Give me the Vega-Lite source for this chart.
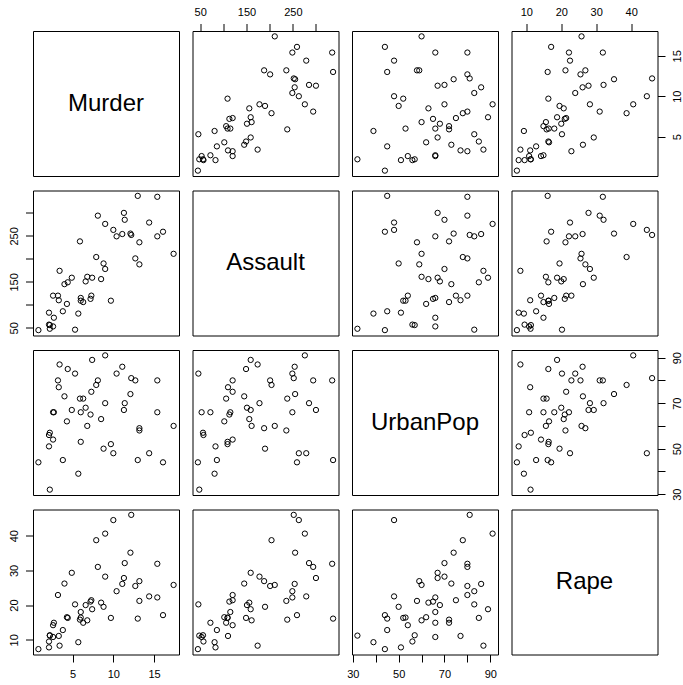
{
  "$schema": "https://vega.github.io/schema/vega-lite/v6.json",
  "padding": {"left": 8, "top": 6, "right": 5, "bottom": 5},
  "background": "white",
  "data": {"values": [
    {"State": "Alabama", "Murder": 13.2, "Assault": 236, "UrbanPop": 58, "Rape": 21.2},
    {"State": "Alaska", "Murder": 10.0, "Assault": 263, "UrbanPop": 48, "Rape": 44.5},
    {"State": "Arizona", "Murder": 8.1, "Assault": 294, "UrbanPop": 80, "Rape": 31.0},
    {"State": "Arkansas", "Murder": 8.8, "Assault": 190, "UrbanPop": 50, "Rape": 19.5},
    {"State": "California", "Murder": 9.0, "Assault": 276, "UrbanPop": 91, "Rape": 40.6},
    {"State": "Colorado", "Murder": 7.9, "Assault": 204, "UrbanPop": 78, "Rape": 38.7},
    {"State": "Connecticut", "Murder": 3.3, "Assault": 110, "UrbanPop": 77, "Rape": 11.1},
    {"State": "Delaware", "Murder": 5.9, "Assault": 238, "UrbanPop": 72, "Rape": 15.8},
    {"State": "Florida", "Murder": 15.4, "Assault": 335, "UrbanPop": 80, "Rape": 31.9},
    {"State": "Georgia", "Murder": 17.4, "Assault": 211, "UrbanPop": 60, "Rape": 25.8},
    {"State": "Hawaii", "Murder": 5.3, "Assault": 46, "UrbanPop": 83, "Rape": 20.2},
    {"State": "Idaho", "Murder": 2.6, "Assault": 120, "UrbanPop": 54, "Rape": 14.2},
    {"State": "Illinois", "Murder": 10.4, "Assault": 249, "UrbanPop": 83, "Rape": 24.0},
    {"State": "Indiana", "Murder": 7.2, "Assault": 113, "UrbanPop": 65, "Rape": 21.0},
    {"State": "Iowa", "Murder": 2.2, "Assault": 56, "UrbanPop": 57, "Rape": 11.3},
    {"State": "Kansas", "Murder": 6.0, "Assault": 115, "UrbanPop": 66, "Rape": 18.0},
    {"State": "Kentucky", "Murder": 9.7, "Assault": 109, "UrbanPop": 52, "Rape": 16.3},
    {"State": "Louisiana", "Murder": 15.4, "Assault": 249, "UrbanPop": 66, "Rape": 22.2},
    {"State": "Maine", "Murder": 2.1, "Assault": 83, "UrbanPop": 51, "Rape": 7.8},
    {"State": "Maryland", "Murder": 11.3, "Assault": 300, "UrbanPop": 67, "Rape": 27.8},
    {"State": "Massachusetts", "Murder": 4.4, "Assault": 149, "UrbanPop": 85, "Rape": 16.3},
    {"State": "Michigan", "Murder": 12.1, "Assault": 255, "UrbanPop": 74, "Rape": 35.1},
    {"State": "Minnesota", "Murder": 2.7, "Assault": 72, "UrbanPop": 66, "Rape": 14.9},
    {"State": "Mississippi", "Murder": 16.1, "Assault": 259, "UrbanPop": 44, "Rape": 17.1},
    {"State": "Missouri", "Murder": 9.0, "Assault": 178, "UrbanPop": 70, "Rape": 28.2},
    {"State": "Montana", "Murder": 6.0, "Assault": 109, "UrbanPop": 53, "Rape": 16.4},
    {"State": "Nebraska", "Murder": 4.3, "Assault": 102, "UrbanPop": 62, "Rape": 16.5},
    {"State": "Nevada", "Murder": 12.2, "Assault": 252, "UrbanPop": 81, "Rape": 46.0},
    {"State": "New Hampshire", "Murder": 2.1, "Assault": 57, "UrbanPop": 56, "Rape": 9.5},
    {"State": "New Jersey", "Murder": 7.4, "Assault": 159, "UrbanPop": 89, "Rape": 18.8},
    {"State": "New Mexico", "Murder": 11.4, "Assault": 285, "UrbanPop": 70, "Rape": 32.1},
    {"State": "New York", "Murder": 11.1, "Assault": 254, "UrbanPop": 86, "Rape": 26.1},
    {"State": "North Carolina", "Murder": 13.0, "Assault": 337, "UrbanPop": 45, "Rape": 16.1},
    {"State": "North Dakota", "Murder": 0.8, "Assault": 45, "UrbanPop": 44, "Rape": 7.3},
    {"State": "Ohio", "Murder": 7.3, "Assault": 120, "UrbanPop": 75, "Rape": 21.4},
    {"State": "Oklahoma", "Murder": 6.6, "Assault": 151, "UrbanPop": 68, "Rape": 20.0},
    {"State": "Oregon", "Murder": 4.9, "Assault": 159, "UrbanPop": 67, "Rape": 29.3},
    {"State": "Pennsylvania", "Murder": 6.3, "Assault": 106, "UrbanPop": 72, "Rape": 14.9},
    {"State": "Rhode Island", "Murder": 3.4, "Assault": 174, "UrbanPop": 87, "Rape": 8.3},
    {"State": "South Carolina", "Murder": 14.4, "Assault": 279, "UrbanPop": 48, "Rape": 22.5},
    {"State": "South Dakota", "Murder": 3.8, "Assault": 86, "UrbanPop": 45, "Rape": 12.8},
    {"State": "Tennessee", "Murder": 13.2, "Assault": 188, "UrbanPop": 59, "Rape": 26.9},
    {"State": "Texas", "Murder": 12.7, "Assault": 201, "UrbanPop": 80, "Rape": 25.5},
    {"State": "Utah", "Murder": 3.2, "Assault": 120, "UrbanPop": 80, "Rape": 22.9},
    {"State": "Vermont", "Murder": 2.2, "Assault": 48, "UrbanPop": 32, "Rape": 11.2},
    {"State": "Virginia", "Murder": 8.5, "Assault": 156, "UrbanPop": 63, "Rape": 20.7},
    {"State": "Washington", "Murder": 4.0, "Assault": 145, "UrbanPop": 73, "Rape": 26.2},
    {"State": "West Virginia", "Murder": 5.7, "Assault": 81, "UrbanPop": 39, "Rape": 9.3},
    {"State": "Wisconsin", "Murder": 2.6, "Assault": 53, "UrbanPop": 66, "Rape": 10.8},
    {"State": "Wyoming", "Murder": 6.8, "Assault": 161, "UrbanPop": 60, "Rape": 15.6}
  ]},
  "columns": 4,
  "spacing": {"row": 14.5, "column": 13.5},
  "bounds": "flush",
  "concat": [
    {"width": 146, "height": 145, "data": {"values": [{"label": "Murder"}]},
     "mark": {"type": "text", "fontSize": 24, "font": "Liberation Sans", "color": "black", "align": "center", "baseline": "middle"},
     "encoding": {"text": {"field": "label"},
       "x": {"datum": 0, "type": "quantitative", "scale": {"domain": [-1, 1]}, "axis": null},
       "y": {"datum": 0, "type": "quantitative", "scale": {"domain": [-1, 1]}, "axis": null}}},
    {"width": 146, "height": 145, "mark": {"type": "point", "shape": "circle", "filled": false, "color": "black", "size": 28, "strokeWidth": 1, "opacity": 1},
     "encoding": {
       "x": {"field": "Assault", "type": "quantitative", "scale": {"domain": [33.32, 348.68], "nice": false, "zero": false}, "axis": {"orient": "top", "title": null, "values": [50, 100, 150, 200, 250, 300], "labelExpr": "datum.value % 100 == 50 ? datum.label : ''"}},
       "y": {"field": "Murder", "type": "quantitative", "scale": {"domain": [0.136, 18.064], "nice": false, "zero": false}, "axis": null}}},
    {"width": 146, "height": 145, "mark": {"type": "point", "shape": "circle", "filled": false, "color": "black", "size": 28, "strokeWidth": 1, "opacity": 1},
     "encoding": {
       "x": {"field": "UrbanPop", "type": "quantitative", "scale": {"domain": [29.64, 93.36], "nice": false, "zero": false}, "axis": null},
       "y": {"field": "Murder", "type": "quantitative", "scale": {"domain": [0.136, 18.064], "nice": false, "zero": false}, "axis": null}}},
    {"width": 146, "height": 145, "mark": {"type": "point", "shape": "circle", "filled": false, "color": "black", "size": 28, "strokeWidth": 1, "opacity": 1},
     "encoding": {
       "x": {"field": "Rape", "type": "quantitative", "scale": {"domain": [5.752, 47.548], "nice": false, "zero": false}, "axis": {"orient": "top", "title": null, "values": [10, 20, 30, 40]}},
       "y": {"field": "Murder", "type": "quantitative", "scale": {"domain": [0.136, 18.064], "nice": false, "zero": false}, "axis": {"orient": "right", "title": null, "values": [5, 10, 15]}}}},

    {"width": 146, "height": 145, "mark": {"type": "point", "shape": "circle", "filled": false, "color": "black", "size": 28, "strokeWidth": 1, "opacity": 1},
     "encoding": {
       "x": {"field": "Murder", "type": "quantitative", "scale": {"domain": [0.136, 18.064], "nice": false, "zero": false}, "axis": null},
       "y": {"field": "Assault", "type": "quantitative", "scale": {"domain": [33.32, 348.68], "nice": false, "zero": false}, "axis": {"orient": "left", "title": null, "values": [50, 100, 150, 200, 250, 300], "labelExpr": "datum.value % 100 == 50 ? datum.label : ''"}}}},
    {"width": 146, "height": 145, "data": {"values": [{"label": "Assault"}]},
     "mark": {"type": "text", "fontSize": 24, "font": "Liberation Sans", "color": "black", "align": "center", "baseline": "middle"},
     "encoding": {"text": {"field": "label"},
       "x": {"datum": 0, "type": "quantitative", "scale": {"domain": [-1, 1]}, "axis": null},
       "y": {"datum": 0, "type": "quantitative", "scale": {"domain": [-1, 1]}, "axis": null}}},
    {"width": 146, "height": 145, "mark": {"type": "point", "shape": "circle", "filled": false, "color": "black", "size": 28, "strokeWidth": 1, "opacity": 1},
     "encoding": {
       "x": {"field": "UrbanPop", "type": "quantitative", "scale": {"domain": [29.64, 93.36], "nice": false, "zero": false}, "axis": null},
       "y": {"field": "Assault", "type": "quantitative", "scale": {"domain": [33.32, 348.68], "nice": false, "zero": false}, "axis": null}}},
    {"width": 146, "height": 145, "mark": {"type": "point", "shape": "circle", "filled": false, "color": "black", "size": 28, "strokeWidth": 1, "opacity": 1},
     "encoding": {
       "x": {"field": "Rape", "type": "quantitative", "scale": {"domain": [5.752, 47.548], "nice": false, "zero": false}, "axis": null},
       "y": {"field": "Assault", "type": "quantitative", "scale": {"domain": [33.32, 348.68], "nice": false, "zero": false}, "axis": null}}},

    {"width": 146, "height": 145, "mark": {"type": "point", "shape": "circle", "filled": false, "color": "black", "size": 28, "strokeWidth": 1, "opacity": 1},
     "encoding": {
       "x": {"field": "Murder", "type": "quantitative", "scale": {"domain": [0.136, 18.064], "nice": false, "zero": false}, "axis": null},
       "y": {"field": "UrbanPop", "type": "quantitative", "scale": {"domain": [29.64, 93.36], "nice": false, "zero": false}, "axis": null}}},
    {"width": 146, "height": 145, "mark": {"type": "point", "shape": "circle", "filled": false, "color": "black", "size": 28, "strokeWidth": 1, "opacity": 1},
     "encoding": {
       "x": {"field": "Assault", "type": "quantitative", "scale": {"domain": [33.32, 348.68], "nice": false, "zero": false}, "axis": null},
       "y": {"field": "UrbanPop", "type": "quantitative", "scale": {"domain": [29.64, 93.36], "nice": false, "zero": false}, "axis": null}}},
    {"width": 146, "height": 145, "data": {"values": [{"label": "UrbanPop"}]},
     "mark": {"type": "text", "fontSize": 24, "font": "Liberation Sans", "color": "black", "align": "center", "baseline": "middle"},
     "encoding": {"text": {"field": "label"},
       "x": {"datum": 0, "type": "quantitative", "scale": {"domain": [-1, 1]}, "axis": null},
       "y": {"datum": 0, "type": "quantitative", "scale": {"domain": [-1, 1]}, "axis": null}}},
    {"width": 146, "height": 145, "mark": {"type": "point", "shape": "circle", "filled": false, "color": "black", "size": 28, "strokeWidth": 1, "opacity": 1},
     "encoding": {
       "x": {"field": "Rape", "type": "quantitative", "scale": {"domain": [5.752, 47.548], "nice": false, "zero": false}, "axis": null},
       "y": {"field": "UrbanPop", "type": "quantitative", "scale": {"domain": [29.64, 93.36], "nice": false, "zero": false}, "axis": {"orient": "right", "title": null, "values": [30, 40, 50, 60, 70, 80, 90], "labelExpr": "datum.value % 20 == 10 ? datum.label : ''"}}}},

    {"width": 146, "height": 145, "mark": {"type": "point", "shape": "circle", "filled": false, "color": "black", "size": 28, "strokeWidth": 1, "opacity": 1},
     "encoding": {
       "x": {"field": "Murder", "type": "quantitative", "scale": {"domain": [0.136, 18.064], "nice": false, "zero": false}, "axis": {"orient": "bottom", "title": null, "values": [5, 10, 15]}},
       "y": {"field": "Rape", "type": "quantitative", "scale": {"domain": [5.752, 47.548], "nice": false, "zero": false}, "axis": {"orient": "left", "title": null, "values": [10, 20, 30, 40]}}}},
    {"width": 146, "height": 145, "mark": {"type": "point", "shape": "circle", "filled": false, "color": "black", "size": 28, "strokeWidth": 1, "opacity": 1},
     "encoding": {
       "x": {"field": "Assault", "type": "quantitative", "scale": {"domain": [33.32, 348.68], "nice": false, "zero": false}, "axis": null},
       "y": {"field": "Rape", "type": "quantitative", "scale": {"domain": [5.752, 47.548], "nice": false, "zero": false}, "axis": null}}},
    {"width": 146, "height": 145, "mark": {"type": "point", "shape": "circle", "filled": false, "color": "black", "size": 28, "strokeWidth": 1, "opacity": 1},
     "encoding": {
       "x": {"field": "UrbanPop", "type": "quantitative", "scale": {"domain": [29.64, 93.36], "nice": false, "zero": false}, "axis": {"orient": "bottom", "title": null, "values": [30, 40, 50, 60, 70, 80, 90], "labelExpr": "datum.value % 20 == 10 ? datum.label : ''"}},
       "y": {"field": "Rape", "type": "quantitative", "scale": {"domain": [5.752, 47.548], "nice": false, "zero": false}, "axis": null}}},
    {"width": 146, "height": 145, "data": {"values": [{"label": "Rape"}]},
     "mark": {"type": "text", "fontSize": 24, "font": "Liberation Sans", "color": "black", "align": "center", "baseline": "middle"},
     "encoding": {"text": {"field": "label"},
       "x": {"datum": 0, "type": "quantitative", "scale": {"domain": [-1, 1]}, "axis": null},
       "y": {"datum": 0, "type": "quantitative", "scale": {"domain": [-1, 1]}, "axis": null}}}
  ],
  "config": {
    "view": {"stroke": "black", "strokeWidth": 1, "fill": "white"},
    "axis": {"domain": false, "grid": false, "ticks": true, "tickColor": "black", "tickSize": 7.5, "tickWidth": 1,
             "labelColor": "black", "labelFont": "Liberation Sans", "labelFontSize": 11, "labelPadding": 6,
             "labelFlush": false, "labelOverlap": false, "labelBound": false},
    "axisY": {"labelAngle": -90}
  }
}
